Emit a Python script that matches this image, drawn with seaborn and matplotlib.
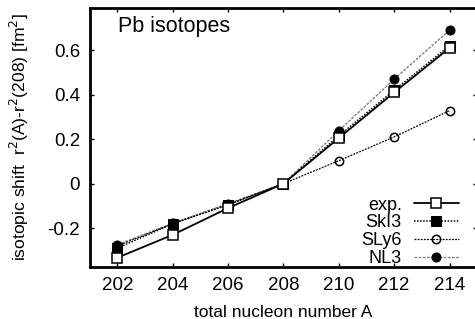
import numpy as np
import pandas as pd
import matplotlib
matplotlib.use("Agg")
import matplotlib.pyplot as plt
import seaborn as sns

# isotopic shift r^2(A) - r^2(208) for Pb isotopes
mass_number = [202, 204, 206, 208, 210, 212, 214]
exp_shift = [-0.333, -0.23, -0.11, 0.0, 0.205, 0.41, 0.61]
ski3_shift = [-0.29, -0.18, -0.095, 0.0, 0.215, 0.42, 0.62]
sly6_shift = [-0.28, -0.18, -0.095, 0.0, 0.103, 0.21, 0.328]
nl3_shift = [-0.275, -0.178, -0.09, 0.0, 0.238, 0.47, 0.69]
series_names = ["exp.", "SkI3", "SLy6", "NL3"]

sns.set_style("ticks")
plt.rcParams["font.family"] = ["Liberation Sans", "DejaVu Sans"]
plt.rcParams["text.color"] = "black"
plt.rcParams["axes.labelcolor"] = "black"

fig = plt.figure(figsize=(4.75, 3.19), dpi=100)
ax = fig.add_axes([0.189, 0.163, 0.8156, 0.812])

styles = {
    "exp.": dict(color="black", linestyle="-", linewidth=1.3, marker="s",
                 markersize=7, markerfacecolor="white", markeredgecolor="black", markeredgewidth=1.1),
    "SkI3": dict(color="black", linestyle=(0, (1, 1)), linewidth=1.1, marker="s",
                 markersize=7, markerfacecolor="black", markeredgecolor="black"),
    "SLy6": dict(color="black", linestyle=(0, (1.5, 1)), linewidth=0.9, marker="o",
                 markersize=6, markerfacecolor="none", markeredgecolor="black", markeredgewidth=1.1),
    "NL3": dict(color="#808080", linestyle=(0, (2, 1)), linewidth=1.0, marker="o",
                markersize=6.5, markerfacecolor="black", markeredgecolor="black"),
}
values = dict(zip(series_names, [exp_shift, ski3_shift, sly6_shift, nl3_shift]))

# draw models first, experiment on top
for name in ["NL3", "SLy6", "SkI3", "exp."]:
    df = pd.DataFrame({"A": mass_number, "shift": values[name]})
    sns.lineplot(data=df, x="A", y="shift", ax=ax, label=name, **styles[name])

ax.set_xlim(201, 215)
ax.set_ylim(-0.375, 0.79)
ax.set_xticks(mass_number)
ax.set_yticks([-0.2, 0, 0.2, 0.4, 0.6])
ax.set_yticklabels(["-0.2", "0", "0.2", "0.4", "0.6"])
ax.tick_params(direction="in", top=True, right=True, length=3, width=1,
               labelsize=13.5, pad=7, colors="black")
for sp in ax.spines.values():
    sp.set_linewidth(2)
    sp.set_color("black")

ax.set_xlabel("total nucleon number A", fontsize=12.5, labelpad=8)
ax.set_ylabel("isotopic shift  r$^2$(A)-r$^2$(208) [fm$^2$]", fontsize=12.6, labelpad=12)
ax.text(0.072, 0.927, "Pb isotopes", transform=ax.transAxes, fontsize=15.5,
        ha="left", va="center")

handles, labels = ax.get_legend_handles_labels()
order = [labels.index(n) for n in series_names]
ax.legend([handles[i] for i in order], series_names, loc="lower right",
          bbox_to_anchor=(0.971, -0.029), markerfirst=False, frameon=False,
          fontsize=13, handlelength=2.5, labelspacing=0.05, borderaxespad=0,
          handletextpad=0.66)
for t in ax.get_legend().get_texts():
    t.set_ha("right")

fig.savefig("out.png", dpi=100)
